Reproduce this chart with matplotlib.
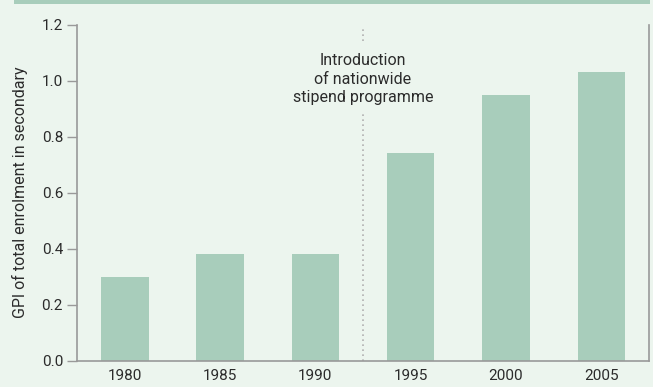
import matplotlib.pyplot as plt
from matplotlib.patches import Rectangle

years = ['1980', '1985', '1990', '1995', '2000', '2005']
gpi = [0.30, 0.38, 0.38, 0.74, 0.95, 1.03]
yticks = [0.0, 0.2, 0.4, 0.6, 0.8, 1.0, 1.2]
note = 'Introduction\nof nationwide\nstipend programme'

bg = '#ecf5ee'
bar_col = '#a8cdbb'
grey = '#999999'
txt = '#2b2b2b'

plt.rcParams['font.family'] = ['Roboto', 'DejaVu Sans']

fig = plt.figure(figsize=(6.53, 3.87), dpi=100, facecolor=bg)
ax = fig.add_axes([77/653, 1 - 360.5/387, (649 - 77)/653, (360.5 - 24.5)/387])
ax.set_facecolor(bg)

# green strip along the top
fig.add_artist(Rectangle((14/653, 1 - 4/387), (650 - 14)/653, 4/387,
                         transform=fig.transFigure, color=bar_col, lw=0))

x = range(len(years))
ax.bar(x, gpi, width=0.5, color=bar_col, zorder=2)

ax.set_xlim(-0.5, 5.5)
ax.set_ylim(0, 1.2)
ax.set_xticks(list(x))
ax.set_xticklabels(years)
ax.set_yticks(yticks)
ax.set_yticklabels(['%.1f' % v for v in yticks])

ax.spines['top'].set_visible(False)
for s in ['left', 'right', 'bottom']:
    ax.spines[s].set_color(grey)
    ax.spines[s].set_linewidth(1.2)

ax.tick_params(axis='y', length=7, width=1, color=grey, labelsize=11, labelcolor=txt, pad=3)
ax.tick_params(axis='x', length=0, labelsize=11, labelcolor=txt, pad=6)

ax.set_ylabel('GPI of total enrolment in secondary', fontsize=11.5, color=txt, labelpad=10)

# policy change marker
ax.vlines(2.5, 0, 1.19, colors='#b0b0b0', linestyles=(0, (1, 2)), lw=1.2, zorder=1)
ax.text(2.5, 1.005, note, ha='center', va='center', fontsize=11.5, color=txt,
        linespacing=1.32, zorder=3,
        bbox=dict(facecolor=bg, edgecolor='none', pad=6))

fig.savefig('out.png', dpi=100, facecolor=bg)
